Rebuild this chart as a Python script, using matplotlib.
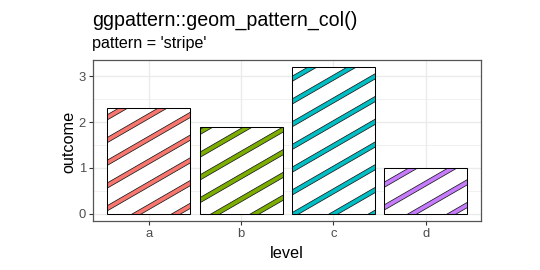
import numpy as np
import matplotlib
matplotlib.use("Agg")
import matplotlib.pyplot as plt
from matplotlib.patches import Rectangle, Polygon

# ---- data ----
levels = ["a", "b", "c", "d"]
outcome = [2.3, 1.9, 3.2, 1.0]
fills = ["#F8766D", "#7CAE00", "#00BFC4", "#C77CFF"]
y_ticks = [0, 1, 2, 3]
title = "ggpattern::geom_pattern_col()"
subtitle = "pattern = 'stripe'"
xlabel = "level"
ylabel = "outcome"

plt.rcParams["font.family"] = ["Liberation Sans", "DejaVu Sans"]

W, H = 540, 270
fig = plt.figure(figsize=(W / 100, H / 100), dpi=100)
L, R, T, B = 93.5, 481.0, 60.0, 221.0
ax = fig.add_axes([L / W, 1 - B / H, (R - L) / W, (B - T) / H])

x = np.arange(1, len(levels) + 1)
bar_w = 0.9
ymax = max(outcome)
ax.set_xlim(0.4, len(levels) + 0.6)
ax.set_ylim(-0.05 * ymax, 1.05 * ymax)

# grid
grid_c = "#EBEBEB"
for yv in np.arange(0.5, ymax * 1.05, 1.0):
    ax.axhline(yv, color=grid_c, lw=0.5, zorder=0)
for yv in y_ticks:
    ax.axhline(yv, color=grid_c, lw=1.0, zorder=0)
for xv in x:
    ax.axvline(xv, color=grid_c, lw=1.0, zorder=0)

# bars with stripe pattern
fig.canvas.draw()
trans = ax.transData
inv = trans.inverted()
p0 = ax.transAxes.transform((0, 0))
p1 = ax.transAxes.transform((1, 1))
pw = p1[0] - p0[0]
center = (p0 + p1) / 2.0
spacing = 0.0508 * pw
stripe_w = 0.23 * spacing
phase = 0.59 * spacing
ang = np.deg2rad(30)
d = np.array([np.cos(ang), np.sin(ang)])
n = np.array([-np.sin(ang), np.cos(ang)])
Lh = pw * 2

for xi, yi, fc in zip(x, outcome, fills):
    rect = Rectangle((xi - bar_w / 2, 0), bar_w, yi, facecolor="white",
                     edgecolor="none", zorder=2)
    ax.add_patch(rect)
    for k in range(-40, 41):
        off = phase + k * spacing
        pts = []
        for so, sl in [(-0.5, -1), (-0.5, 1), (0.5, 1), (0.5, -1)]:
            pdisp = center + (off + so * stripe_w) * n + sl * Lh * d
            pts.append(pdisp)
        pts = inv.transform(np.array(pts))
        poly = Polygon(pts, closed=True, facecolor=fc, edgecolor="#1a1a1a",
                       lw=0.55, zorder=3)
        ax.add_patch(poly)
        poly.set_clip_path(rect)
    outline = Rectangle((xi - bar_w / 2, 0), bar_w, yi, facecolor="none",
                        edgecolor="black", lw=0.75, zorder=4)
    ax.add_patch(outline)

# axes styling
for sp in ax.spines.values():
    sp.set_color("#555555")
    sp.set_linewidth(0.9)
ax.set_xticks(x)
ax.set_xticklabels(levels)
ax.set_yticks(y_ticks)
ax.tick_params(axis="both", colors="#333333", length=3, width=0.8,
               labelsize=9.4, labelcolor="#4D4D4D")
ax.tick_params(axis="x", pad=1.8)
ax.tick_params(axis="y", pad=2.5)

fig.text(92 / W, 1 - 26 / H, title, fontsize=14.1, color="black",
         ha="left", va="baseline")
fig.text(92 / W, 1 - 48.3 / H, subtitle, fontsize=11.6, color="black",
         ha="left", va="baseline")
fig.text(((L + R) / 2) / W, 1 - 258 / H, xlabel, fontsize=11.7,
         ha="center", va="baseline")
fig.text(68.7 / W, 1 - 141.5 / H, ylabel, fontsize=11.7, rotation=90,
         ha="center", va="center")

fig.savefig("out.png", dpi=100)
